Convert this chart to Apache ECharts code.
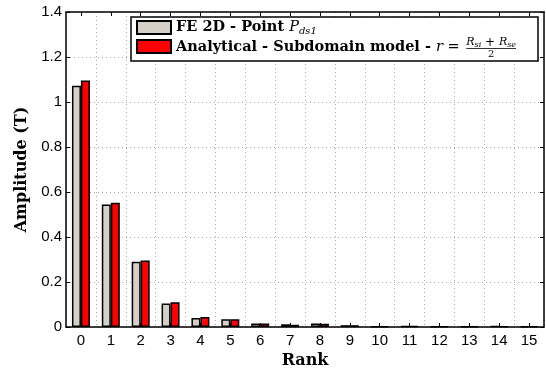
<!DOCTYPE html>
<html>
<head>
<meta charset="utf-8">
<script src="https://cdn.jsdelivr.net/npm/echarts@6/dist/echarts.min.js"></script>
<style>
  html, body { margin: 0; padding: 0; background: #fff; }
  #chart { width: 546px; height: 372px; }
</style>
</head>
<body>
<div id="chart"></div>
<script>
const ranks = ['0', '1', '2', '3', '4', '5', '6', '7', '8', '9', '10', '11', '12', '13', '14', '15'];
const feValues = [1.072, 0.545, 0.290, 0.105, 0.040, 0.034, 0.016, 0.012, 0.016, 0.008, 0.003, 0.005, 0.003, 0.003, 0.004, 0.003];
const analyticalValues = [1.096, 0.552, 0.296, 0.110, 0.044, 0.034, 0.016, 0.010, 0.014, 0.008, 0.003, 0.004, 0.003, 0.003, 0.003, 0.003];
const feName = 'FE 2D - Point Pds1';
const analyticalName = 'Analytical - Subdomain model - r = (Rsi+Rse)/2';

const chart = echarts.init(document.getElementById('chart'));

const serif = '"DejaVu Serif"';
const sans = '"Liberation Sans", Arial, sans-serif';
const gridDots = { type: [1, 3], color: '#aaa', width: 1 };

function textWidth(text, font) {
    return new echarts.graphic.Text({ style: { text: text, font: font } }).getBoundingRect().width;
}

// put text pieces one after the other, y is the vertical middle of the row
function textRun(pieces, x, y) {
    const out = [];
    pieces.forEach(function (p) {
        out.push({
            type: 'text',
            x: x,
            y: y + (p.dy || 0),
            z: 11,
            style: { text: p.text, font: p.font, fill: '#000', verticalAlign: 'middle' }
        });
        x += textWidth(p.text, p.font);
    });
    return { items: out, end: x };
}

// legend drawn by hand, to get the math bits
const lx = 131, ly = 17, lw = 407, lh = 44;
const bold = 'bold 14.5px ' + serif;
const ital = 'italic 14.5px ' + serif;
const sub = 'italic 10px ' + serif;

const row1 = textRun([
    { text: 'FE 2D - Point ', font: bold },
    { text: 'P', font: ital },
    { text: 'ds1', font: sub, dy: 4 }
], 176, 27);

const row2 = textRun([
    { text: 'Analytical - Subdomain model - ', font: bold },
    { text: 'r', font: ital },
    { text: ' = ', font: '14.5px ' + serif }
], 176, 47);

const fx = row2.end + 2;
const num = textRun([
    { text: 'R', font: 'italic 11px ' + serif },
    { text: 'si', font: 'italic 8px ' + serif, dy: 2 },
    { text: ' + ', font: '12px ' + serif },
    { text: 'R', font: 'italic 11px ' + serif },
    { text: 'se', font: 'italic 8px ' + serif, dy: 2 }
], fx, 42.5);
const fracW = num.end - fx;

const legendGraphics = [
    {
        type: 'rect',
        z: 10,
        shape: { x: lx, y: ly, width: lw, height: lh },
        style: { fill: '#fff', stroke: '#000', lineWidth: 1.5 }
    },
    {
        type: 'rect',
        z: 11,
        shape: { x: 137, y: 21, width: 34, height: 13 },
        style: { fill: '#d4d0c8', stroke: '#000', lineWidth: 2 }
    },
    {
        type: 'rect',
        z: 11,
        shape: { x: 137, y: 40, width: 34, height: 13 },
        style: { fill: '#ff0000', stroke: '#000', lineWidth: 2 }
    },
    {
        type: 'line',
        z: 11,
        shape: { x1: fx, y1: 48.5, x2: fx + fracW, y2: 48.5 },
        style: { stroke: '#000', lineWidth: 0.8 }
    },
    {
        type: 'text',
        z: 11,
        x: fx + fracW / 2,
        y: 54.5,
        style: { text: '2', font: '10px ' + serif, fill: '#000', align: 'center', verticalAlign: 'middle' }
    }
].concat(row1.items, row2.items, num.items);

const axisBlack = { color: '#000', width: 1.5 };
const tickIn = { show: true, inside: true, length: 4, lineStyle: { color: '#000' } };

const option = {
    animation: false,
    backgroundColor: '#fff',
    grid: { left: 66, right: 2, top: 12, bottom: 45, containLabel: false, outerBoundsMode: 'none' },
    legend: { show: false },
    graphic: legendGraphics,
    xAxis: [{
        type: 'category',
        data: ranks,
        boundaryGap: true,
        name: 'Rank',
        nameLocation: 'middle',
        nameGap: 25,
        nameTextStyle: { fontFamily: serif, fontWeight: 'bold', fontSize: 16, color: '#000' },
        axisLine: { onZero: false, lineStyle: axisBlack },
        axisTick: Object.assign({ alignWithLabel: true }, tickIn),
        axisLabel: { interval: 0, fontFamily: sans, fontSize: 15, color: '#000', margin: 6 },
        splitLine: { show: false }
    }, {
        type: 'category',
        data: ranks,
        position: 'top',
        boundaryGap: true,
        axisLine: { onZero: false, lineStyle: axisBlack },
        axisTick: Object.assign({ alignWithLabel: true }, tickIn),
        axisLabel: { show: false },
        splitLine: { show: false }
    }, {
        // only carries the vertical grid lines, at each integer rank
        type: 'value',
        min: -0.5,
        max: 15.5,
        interval: 1,
        position: 'bottom',
        axisLine: { show: false, onZero: false },
        axisTick: { show: false },
        axisLabel: { show: false },
        splitLine: { show: true, lineStyle: gridDots }
    }],
    yAxis: [{
        type: 'value',
        min: 0,
        max: 1.4,
        interval: 0.2,
        name: 'Amplitude (T)',
        nameLocation: 'middle',
        nameGap: 36,
        nameTextStyle: { fontFamily: serif, fontWeight: 'bold', fontSize: 16, color: '#000' },
        axisLine: { show: true, onZero: false, lineStyle: axisBlack },
        axisTick: tickIn,
        axisLabel: { fontFamily: sans, fontSize: 15, color: '#000', margin: 4 },
        splitLine: { show: true, lineStyle: gridDots }
    }, {
        type: 'value',
        min: 0,
        max: 1.4,
        interval: 0.2,
        position: 'right',
        axisLine: { show: true, onZero: false, lineStyle: axisBlack },
        axisTick: tickIn,
        axisLabel: { show: false },
        splitLine: { show: false }
    }],
    series: [{
        name: feName,
        type: 'bar',
        data: feValues,
        barWidth: 9,
        barGap: '0%',
        itemStyle: { color: '#d4d0c8', borderColor: '#000', borderWidth: 1.5 }
    }, {
        name: analyticalName,
        type: 'bar',
        data: analyticalValues,
        barWidth: 9,
        barGap: '0%',
        itemStyle: { color: '#ff0000', borderColor: '#000', borderWidth: 1.5 }
    }]
};

chart.setOption(option);
</script>
</body>
</html>
